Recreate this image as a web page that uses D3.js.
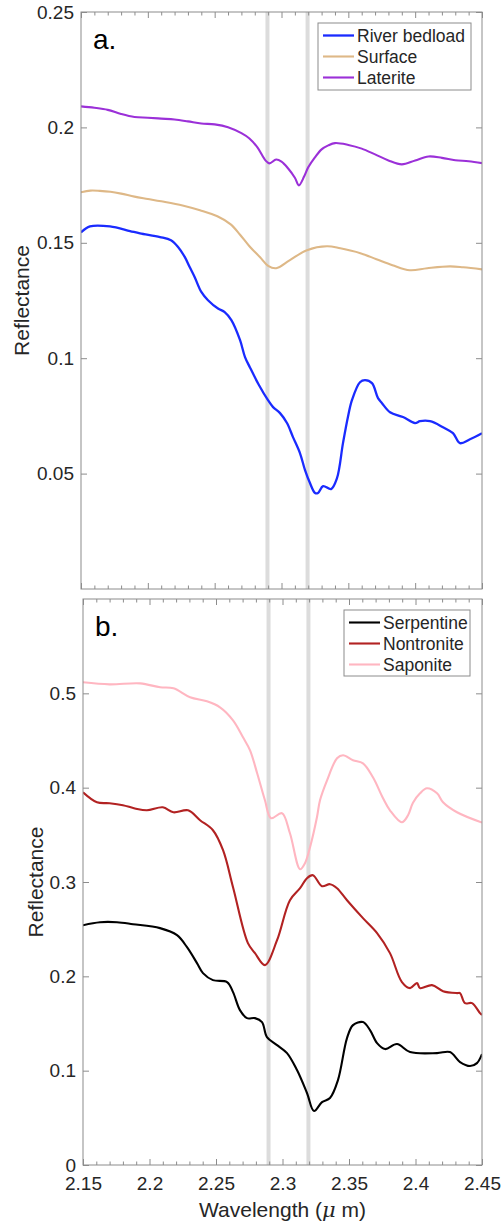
<!DOCTYPE html>
<html>
<head>
<meta charset="utf-8">
<script src="https://cdn.jsdelivr.net/npm/d3@7"></script>
<style>
  body { margin: 0; background: #fff; }
  svg text { font-family: "Liberation Sans", Arial, Helvetica, sans-serif; fill: #262626; }
  .tick text { font-size: 19px; }
  .tick line { stroke: #8c8c8c; }
  .axis-label { font-size: 21px; }
  .legend-text { font-size: 17.5px; }
  .panel-letter { font-size: 28px; fill: #000; }
</style>
</head>
<body>
<svg id="chart" width="501" height="1223"></svg>
<script>

// x range (wavelength, micrometres) shared by both panels
const wavelengthDomain = [2.15, 2.45];
const xMajorTicks = [2.15, 2.2, 2.25, 2.3, 2.35, 2.4, 2.45];
const featureBands = [2.2895, 2.3195];

// panel a: [wavelength, reflectance]
const riverBedload = [[2.15,0.1545],[2.1567,0.1571],[2.1717,0.1571],[2.1867,0.1551],[2.1941,0.1541],[2.2091,0.1525],[2.2173,0.1511],[2.2226,0.1482],[2.2276,0.1439],[2.2313,0.1395],[2.235,0.1352],[2.24,0.1287],[2.245,0.1251],[2.2525,0.1215],[2.2575,0.1200],[2.2625,0.1165],[2.269,0.1078],[2.2727,0.1005],[2.2764,0.0960],[2.283,0.0885],[2.2899,0.0818],[2.2937,0.0788],[2.2989,0.0762],[2.3041,0.0719],[2.3086,0.0658],[2.3138,0.0589],[2.3176,0.0515],[2.3213,0.0459],[2.3251,0.0416],[2.3273,0.0416],[2.3311,0.0446],[2.3371,0.0433],[2.3415,0.0480],[2.346,0.0632],[2.3497,0.0745],[2.3527,0.0818],[2.3587,0.0896],[2.3625,0.0905],[2.3677,0.0892],[2.3722,0.0827],[2.3752,0.0805],[2.3812,0.0766],[2.3909,0.0745],[2.3999,0.0719],[2.4036,0.0727],[2.4111,0.0727],[2.4208,0.0701],[2.4283,0.0675],[2.4335,0.0632],[2.441,0.0649],[2.45,0.0675]];
const surface = [[2.15,0.1719],[2.157,0.1726],[2.164,0.1725],[2.172,0.1721],[2.18,0.1713],[2.19,0.1700],[2.20,0.1690],[2.21,0.1680],[2.226,0.1662],[2.239,0.1641],[2.252,0.1615],[2.262,0.1580],[2.269,0.1535],[2.276,0.1485],[2.284,0.1437],[2.29,0.1400],[2.296,0.1390],[2.306,0.1424],[2.319,0.1468],[2.334,0.1485],[2.344,0.1476],[2.359,0.1455],[2.371,0.1429],[2.383,0.1403],[2.396,0.1381],[2.409,0.1390],[2.426,0.1398],[2.436,0.1394],[2.45,0.1385]];
const laterite = [[2.15,0.2091],[2.16,0.2085],[2.17,0.2076],[2.18,0.2058],[2.19,0.2045],[2.20,0.2042],[2.21,0.2038],[2.22,0.2034],[2.23,0.2026],[2.24,0.2017],[2.25,0.2013],[2.26,0.2001],[2.27,0.1975],[2.276,0.1952],[2.282,0.1913],[2.288,0.1857],[2.291,0.1844],[2.296,0.1861],[2.30,0.1852],[2.305,0.1822],[2.31,0.1782],[2.313,0.1749],[2.317,0.1788],[2.32,0.1827],[2.325,0.1870],[2.33,0.1905],[2.335,0.1922],[2.34,0.1932],[2.35,0.1924],[2.36,0.1908],[2.37,0.1883],[2.38,0.1857],[2.39,0.1840],[2.40,0.1857],[2.41,0.1874],[2.42,0.1868],[2.43,0.1858],[2.44,0.1853],[2.45,0.1845]];

// panel b
const serpentine = [[2.15,0.2542],[2.1628,0.2574],[2.1756,0.2574],[2.1876,0.2553],[2.2079,0.2511],[2.2207,0.2436],[2.2282,0.2309],[2.2357,0.2140],[2.2402,0.2034],[2.2477,0.1960],[2.2583,0.1939],[2.2628,0.1833],[2.268,0.1642],[2.2733,0.1557],[2.2793,0.1557],[2.2846,0.1515],[2.2883,0.1356],[2.2959,0.1271],[2.3034,0.1186],[2.3109,0.1006],[2.3184,0.0763],[2.3237,0.0572],[2.3297,0.0667],[2.3357,0.0710],[2.3417,0.0900],[2.3485,0.1345],[2.353,0.1483],[2.3605,0.1515],[2.3658,0.1430],[2.3711,0.1292],[2.3771,0.1229],[2.3861,0.1282],[2.3959,0.1197],[2.4162,0.1186],[2.4259,0.1197],[2.4335,0.1091],[2.441,0.1049],[2.4462,0.1080],[2.45,0.1176]];
const nontronite = [[2.15,0.3951],[2.1605,0.3845],[2.170,0.3835],[2.180,0.3814],[2.189,0.3780],[2.198,0.3760],[2.210,0.3792],[2.218,0.3739],[2.229,0.3760],[2.238,0.3655],[2.2477,0.3549],[2.2553,0.3337],[2.2628,0.2945],[2.274,0.2352],[2.2793,0.2246],[2.2868,0.2119],[2.2959,0.2383],[2.3056,0.2807],[2.3132,0.2934],[2.3184,0.3040],[2.3229,0.3072],[2.3297,0.2956],[2.3357,0.2977],[2.341,0.2934],[2.3485,0.2807],[2.3605,0.2617],[2.3711,0.2458],[2.3808,0.2246],[2.3898,0.1939],[2.3959,0.1875],[2.4011,0.1928],[2.4034,0.1875],[2.4124,0.1907],[2.4207,0.1843],[2.4312,0.1822],[2.4335,0.1822],[2.4372,0.1716],[2.4425,0.1716],[2.4485,0.1610],[2.45,0.1590]];
const saponite = [[2.15,0.5117],[2.17,0.5095],[2.193,0.5106],[2.208,0.5064],[2.218,0.5053],[2.2305,0.4958],[2.2432,0.4915],[2.253,0.4852],[2.2628,0.4714],[2.2703,0.4534],[2.2756,0.4396],[2.281,0.4150],[2.2868,0.3867],[2.2914,0.3676],[2.2996,0.3729],[2.3056,0.3517],[2.3132,0.3136],[2.3169,0.3200],[2.3207,0.3369],[2.3259,0.3686],[2.3282,0.3867],[2.3335,0.4078],[2.341,0.4311],[2.3455,0.4343],[2.353,0.4290],[2.3605,0.4258],[2.368,0.4110],[2.3756,0.3888],[2.3808,0.3760],[2.3898,0.3633],[2.3944,0.3708],[2.3981,0.3840],[2.4034,0.3940],[2.4086,0.3994],[2.4162,0.3940],[2.4207,0.3845],[2.4312,0.3739],[2.45,0.3630]];

const topYTicks = [0.05, 0.1, 0.15, 0.2, 0.25];
const bottomYTicks = [0, 0.1, 0.2, 0.3, 0.4, 0.5];

class SpectraPanel {

    constructor(_config) {
        this.config = {
            parentElement: _config.parentElement,
            left: _config.left,
            right: _config.right,
            top: _config.top,
            bottom: _config.bottom,
            yMax: _config.yMax,
            yTicks: _config.yTicks,
            series: _config.series,
            letter: _config.letter,
            legend: _config.legend,
            yLabelX: _config.yLabelX,
            showXLabels: _config.showXLabels
        };
        this.initVis();
    }

    initVis() {
        let vis = this;
        const c = vis.config;
        vis.width = c.right - c.left;
        vis.height = c.bottom - c.top;

        vis.xScale = d3.scaleLinear().domain(wavelengthDomain).range([0, vis.width]);
        vis.yScale = d3.scaleLinear().domain([0, c.yMax]).range([vis.height, 0]);

        vis.chart = d3.select(c.parentElement).append('g')
            .attr('transform', `translate(${c.left},${c.top})`);

        vis.chart.append('clipPath').attr('id', 'clip-' + c.letter)
            .append('rect').attr('width', vis.width).attr('height', vis.height);

        vis.renderBands();
        vis.renderLines();
        vis.renderAxes();
        vis.renderLegend();
    }

    renderBands() {
        let vis = this;
        vis.chart.selectAll('.band')
            .data(featureBands)
            .enter().append('rect')
            .attr('class', 'band')
            .attr('x', d => vis.xScale(d) - 2)
            .attr('width', 4)
            .attr('y', 0)
            .attr('height', vis.height)
            .attr('fill', '#dcdcdc');
    }

    renderLines() {
        let vis = this;
        const line = d3.line()
            .x(d => vis.xScale(d[0]))
            .y(d => vis.yScale(d[1]))
            .curve(d3.curveCatmullRom.alpha(0.5));

        vis.chart.append('g')
            .attr('clip-path', `url(#clip-${vis.config.letter})`)
            .selectAll('path')
            .data(vis.config.series)
            .enter().append('path')
            .attr('d', d => line(d.values))
            .attr('fill', 'none')
            .attr('stroke', d => d.color)
            .attr('stroke-width', d => d.width)
            .attr('stroke-linejoin', 'round');
    }

    renderAxes() {
        let vis = this;
        const c = vis.config;
        const minorTicks = d3.range(2.16, 2.449, 0.01).filter(t => Math.abs(t * 20 - Math.round(t * 20)) > 1e-6);

        // bottom x axis, ticks point inward
        const xAxis = d3.axisBottom(vis.xScale)
            .tickValues(xMajorTicks)
            .tickSize(-6)
            .tickPadding(12)
            .tickFormat(c.showXLabels ? d3.format('') : '');
        vis.chart.append('g').attr('transform', `translate(0,${vis.height})`).call(xAxis);
        vis.chart.append('g').attr('transform', `translate(0,${vis.height})`)
            .call(d3.axisBottom(vis.xScale).tickValues(minorTicks).tickSize(-3.5).tickFormat(''));

        // top x axis
        vis.chart.append('g').call(d3.axisTop(vis.xScale).tickValues(xMajorTicks).tickSize(-6).tickFormat(''));
        vis.chart.append('g').call(d3.axisTop(vis.xScale).tickValues(minorTicks).tickSize(-3.5).tickFormat(''));

        // y axes
        vis.chart.append('g')
            .call(d3.axisLeft(vis.yScale).tickValues(c.yTicks).tickSize(-6).tickPadding(7).tickFormat(d3.format('')));
        vis.chart.append('g').attr('transform', `translate(${vis.width},0)`)
            .call(d3.axisRight(vis.yScale).tickValues(c.yTicks).tickSize(-6).tickFormat(''));

        vis.chart.selectAll('.domain').remove();

        // axes box
        vis.chart.append('rect')
            .attr('width', vis.width)
            .attr('height', vis.height)
            .attr('fill', 'none')
            .attr('stroke', '#8c8c8c')
            .attr('stroke-width', 1);

        vis.chart.append('text')
            .attr('class', 'axis-label')
            .attr('transform', 'rotate(-90)')
            .attr('x', -vis.height / 2)
            .attr('y', c.yLabelX - c.left)
            .attr('text-anchor', 'middle')
            .text('Reflectance');

        if (c.showXLabels) {
            const xl = vis.chart.append('text')
                .attr('class', 'axis-label')
                .attr('x', vis.width / 2)
                .attr('y', vis.height + 52)
                .attr('text-anchor', 'middle');
            xl.append('tspan').text('Wavelength (');
            xl.append('tspan').attr('font-style', 'italic').attr('font-family', '"DejaVu Serif", serif').text('\u03bc');
            xl.append('tspan').text(' m)');
        }

        vis.chart.append('text')
            .attr('class', 'panel-letter')
            .attr('x', 12)
            .attr('y', 37)
            .text(c.letter + '.');
    }

    renderLegend() {
        let vis = this;
        const lg = vis.config.legend;
        const g = vis.chart.append('g').attr('transform', `translate(${lg.x},${lg.y})`);

        g.append('rect')
            .attr('width', lg.w)
            .attr('height', lg.h)
            .attr('fill', '#fff')
            .attr('stroke', '#8c8c8c')
            .attr('stroke-width', 1);

        const rows = g.selectAll('.legend-row')
            .data(vis.config.series)
            .enter().append('g')
            .attr('class', 'legend-row')
            .attr('transform', (d, i) => `translate(0,${12.5 + i * 21})`);

        rows.append('line')
            .attr('x1', 5).attr('x2', 36)
            .attr('stroke', d => d.color)
            .attr('stroke-width', d => d.width);

        rows.append('text')
            .attr('class', 'legend-text')
            .attr('x', 39)
            .attr('dy', '0.35em')
            .text(d => d.name);
    }
}

new SpectraPanel({
    parentElement: '#chart',
    left: 81, right: 482, top: 12, bottom: 589,
    yMax: 0.25,
    yTicks: topYTicks,
    letter: 'a',
    yLabelX: 29,
    showXLabels: false,
    legend: {x: 237, y: 11, w: 153, h: 67},
    series: [
        {name: 'River bedload', values: riverBedload, color: '#1a2bff', width: 2.3},
        {name: 'Surface', values: surface, color: '#deb887', width: 2.1},
        {name: 'Laterite', values: laterite, color: '#9b30d8', width: 2.1}
    ]
});

new SpectraPanel({
    parentElement: '#chart',
    left: 83, right: 482, top: 599, bottom: 1165,
    yMax: 0.6,
    yTicks: bottomYTicks,
    letter: 'b',
    yLabelX: 43,
    showXLabels: true,
    legend: {x: 261, y: 11, w: 126, h: 66},
    series: [
        {name: 'Serpentine', values: serpentine, color: '#000000', width: 2.1},
        {name: 'Nontronite', values: nontronite, color: '#b22222', width: 2.1},
        {name: 'Saponite', values: saponite, color: '#ffb6c1', width: 2.1}
    ]
});

</script>
</body>
</html>
